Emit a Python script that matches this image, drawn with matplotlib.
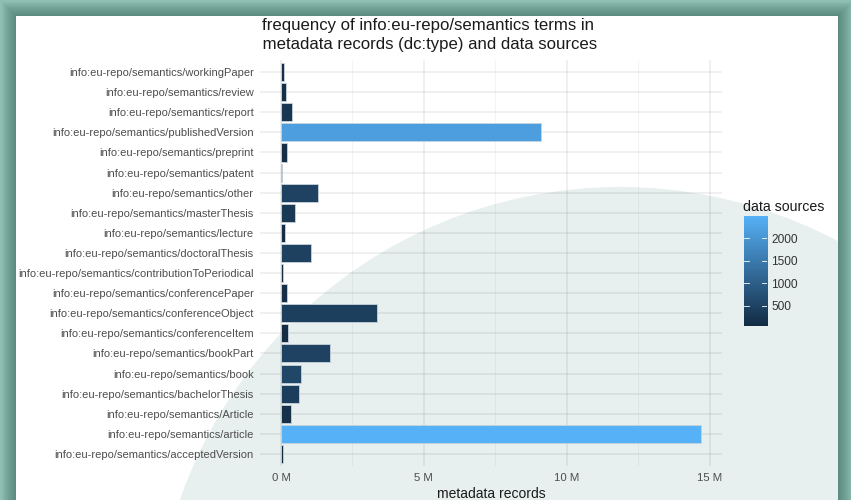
import matplotlib
matplotlib.use("Agg")
import matplotlib.pyplot as plt
from matplotlib.patches import Rectangle, Ellipse
from matplotlib.colors import LinearSegmentedColormap, Normalize
from matplotlib.ticker import FuncFormatter, MultipleLocator
import numpy as np

plt.rcParams['font.family'] = ['Liberation Sans', 'DejaVu Sans']

# ---- data (top to bottom as displayed) ----
categories = [
    "info:eu-repo/semantics/workingPaper",
    "info:eu-repo/semantics/review",
    "info:eu-repo/semantics/report",
    "info:eu-repo/semantics/publishedVersion",
    "info:eu-repo/semantics/preprint",
    "info:eu-repo/semantics/patent",
    "info:eu-repo/semantics/other",
    "info:eu-repo/semantics/masterThesis",
    "info:eu-repo/semantics/lecture",
    "info:eu-repo/semantics/doctoralThesis",
    "info:eu-repo/semantics/contributionToPeriodical",
    "info:eu-repo/semantics/conferencePaper",
    "info:eu-repo/semantics/conferenceObject",
    "info:eu-repo/semantics/conferenceItem",
    "info:eu-repo/semantics/bookPart",
    "info:eu-repo/semantics/book",
    "info:eu-repo/semantics/bachelorThesis",
    "info:eu-repo/semantics/Article",
    "info:eu-repo/semantics/article",
    "info:eu-repo/semantics/acceptedVersion",
]
metadata_records = [0.115e6, 0.175e6, 0.37e6, 9.09e6, 0.2e6, 0.035e6, 1.3e6, 0.5e6,
                    0.13e6, 1.04e6, 0.07e6, 0.2e6, 3.35e6, 0.23e6, 1.71e6, 0.71e6,
                    0.62e6, 0.34e6, 14.7e6, 0.06e6]
data_sources = [150, 120, 250, 2150, 130, 80, 480, 300, 90, 450, 60, 120, 420, 70,
                480, 560, 380, 150, 2500, 50]
x_ticks = [0, 5e6, 10e6, 15e6]
cb_ticks = [500, 1000, 1500, 2000]

W, H = 851, 500
fig = plt.figure(figsize=(W / 100, H / 100), dpi=100)
fig.patch.set_facecolor('#8ebfb2')

def px_rect(x0, y0, x1, y1):
    # pixel coords (top-left origin) -> figure fraction rect
    return [x0 / W, 1 - y1 / H, (x1 - x0) / W, (y1 - y0) / H]

# shadow around white panel
for k in range(14, 0, -1):
    fig.patches.append(Rectangle(((16 - k) / W, 0), (822 + 2 * k) / W, (484 + k) / H,
                                 transform=fig.transFigure, facecolor='#2f5a50',
                                 edgecolor='none', alpha=0.045, zorder=-3))
white = Rectangle((16 / W, 0), 822 / W, 484 / H, transform=fig.transFigure,
                  facecolor='white', edgecolor='none', zorder=-2)
fig.patches.append(white)

# decorative circle in the background (round in pixel space)
ell = Ellipse((620 / W, 1 - 653 / H), 2 * 466 / W, 2 * 466 / H, transform=fig.transFigure,
              facecolor='#e7f0ee', edgecolor='none', zorder=-1)
fig.patches.append(ell)
ell.set_clip_path(white)

# colormap like ggplot continuous default
cmap = LinearSegmentedColormap.from_list('gg', ['#132B43', '#56B1F7'])
norm = Normalize(vmin=min(data_sources), vmax=max(data_sources))

ax = fig.add_axes(px_rect(260, 60, 722, 466))
ax.set_facecolor('none')
n = len(categories)
ypos = np.arange(n)[::-1]
ax.barh(ypos, metadata_records, height=0.9, color=cmap(norm(np.array(data_sources))),
        edgecolor='#c8d3dc', linewidth=0.6, zorder=3)

xmax = max(metadata_records)
ax.set_xlim(-0.05 * xmax, 1.05 * xmax)
ax.set_ylim(-0.6, n - 1 + 0.6)
ax.set_yticks(ypos)
ax.set_yticklabels(categories)
ax.set_xticks(x_ticks)
ax.xaxis.set_minor_locator(MultipleLocator(2.5e6))
ax.xaxis.set_major_formatter(FuncFormatter(lambda v, p: f"{v/1e6:.0f} M"))
ax.tick_params(axis='both', length=0, which='both', colors='#4d4d4d')
ax.tick_params(axis='y', pad=4.5, labelsize=8.0)
ax.tick_params(axis='x', pad=5, labelsize=8.2)
ax.grid(True, which='major', color='black', alpha=0.08, linewidth=1.1, zorder=0)
ax.grid(True, which='minor', axis='x', color='black', alpha=0.05, linewidth=0.6, zorder=0)
for s in ax.spines.values():
    s.set_visible(False)
ax.set_xlabel('metadata records', fontsize=10, color='#1a1a1a', labelpad=3)

fig.text(428 / W, 1 - 35 / H,
         "frequency of info:eu-repo/semantics terms in\n metadata records (dc:type) and data sources",
         ha='center', va='center', fontsize=12.1, color='#1a1a1a', linespacing=1.4)

# colorbar legend
cax = fig.add_axes(px_rect(744, 216, 767, 326))
grad = np.linspace(norm.vmin, norm.vmax, 256).reshape(-1, 1)
cax.imshow(grad, aspect='auto', cmap=cmap, norm=norm, origin='lower',
           extent=[0, 1, norm.vmin, norm.vmax])
for t in cb_ticks:
    cax.plot([0, 0.2], [t, t], color='white', lw=0.6)
    cax.plot([0.8, 1], [t, t], color='white', lw=0.6)
cax.set_xlim(0, 1)
cax.set_ylim(norm.vmin, norm.vmax)
cax.set_xticks([])
cax.yaxis.tick_right()
cax.set_yticks(cb_ticks)
cax.tick_params(axis='y', length=0, labelsize=8.6, colors='#333333', pad=3)
for s in cax.spines.values():
    s.set_visible(False)
fig.text(743 / W, 1 - 207 / H, 'data sources', ha='left', va='center',
         fontsize=10.2, color='#1a1a1a')

fig.savefig('out.png', dpi=100)
